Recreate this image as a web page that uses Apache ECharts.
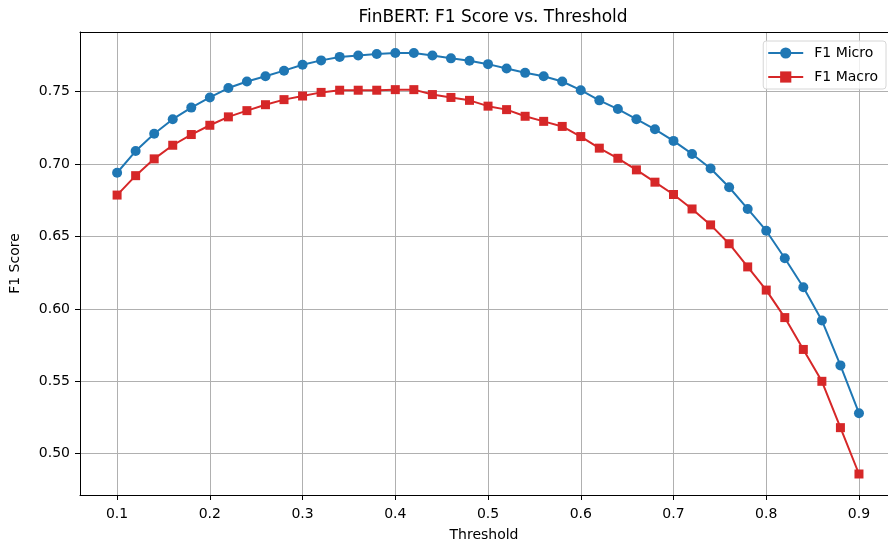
<!DOCTYPE html>
<html>
<head>
<meta charset="utf-8">
<script src="https://cdn.jsdelivr.net/npm/echarts@6/dist/echarts.min.js"></script>
<style>
  html, body { margin: 0; padding: 0; background: #fff; }
  #chart { width: 888px; height: 547px; }
</style>
</head>
<body>
<div id="chart"></div>
<script>
  const thresholds = [0.10, 0.12, 0.14, 0.16, 0.18, 0.20, 0.22, 0.24, 0.26, 0.28,
    0.30, 0.32, 0.34, 0.36, 0.38, 0.40, 0.42, 0.44, 0.46, 0.48,
    0.50, 0.52, 0.54, 0.56, 0.58, 0.60, 0.62, 0.64, 0.66, 0.68,
    0.70, 0.72, 0.74, 0.76, 0.78, 0.80, 0.82, 0.84, 0.86, 0.88, 0.90]
  const f1Micro = [0.694, 0.709, 0.721, 0.731, 0.739, 0.746, 0.7525, 0.757, 0.7606, 0.7645,
    0.7686, 0.7716, 0.774, 0.775, 0.776, 0.7767, 0.7767, 0.775, 0.773, 0.7714,
    0.769, 0.766, 0.763, 0.7606, 0.757, 0.751, 0.744, 0.738, 0.731, 0.724,
    0.716, 0.707, 0.697, 0.684, 0.669, 0.654, 0.635, 0.615, 0.592, 0.561, 0.528]
  const f1Macro = [0.6786, 0.692, 0.7036, 0.713, 0.7204, 0.7268, 0.7326, 0.7369, 0.741, 0.7445,
    0.747, 0.7495, 0.751, 0.751, 0.751, 0.7514, 0.7514, 0.748, 0.746, 0.744,
    0.740, 0.7376, 0.733, 0.7295, 0.726, 0.719, 0.711, 0.704, 0.696, 0.6875,
    0.679, 0.669, 0.658, 0.645, 0.629, 0.613, 0.594, 0.572, 0.550, 0.518, 0.486]
  const xTicks = [0.1, 0.2, 0.3, 0.4, 0.5, 0.6, 0.7, 0.8, 0.9]
  const yTicks = [0.50, 0.55, 0.60, 0.65, 0.70, 0.75]

  const font = 'DejaVu Sans'
  const chart = echarts.init(document.getElementById('chart'))

  const pairs = (ys) => thresholds.map((x, i) => [x, ys[i]])

  chart.setOption({
    animation: false,
    textStyle: { fontFamily: font },
    title: {
      text: 'FinBERT: F1 Score vs. Threshold',
      left: 488,
      textAlign: 'center',
      top: 4,
      textStyle: { fontFamily: font, fontSize: 17, fontWeight: 'normal', color: '#000' }
    },
    grid: {
      left: 80,
      top: 32,
      right: 0,
      bottom: 48
    },
    legend: {
      orient: 'vertical',
      right: 2,
      top: 41,
      backgroundColor: 'rgba(255,255,255,0.8)',
      borderColor: '#d6d6d6',
      borderWidth: 1,
      borderRadius: 3,
      padding: [5, 8, 5, 4],
      itemGap: 10,
      itemWidth: 35,
      itemHeight: 14,
      textStyle: { fontFamily: font, fontSize: 14, color: '#000', padding: [0, 0, 0, 6] },
      data: ['F1 Micro', 'F1 Macro']
    },
    xAxis: [{
      type: 'value',
      min: 0.06,
      max: 0.9313,
      name: 'Threshold',
      nameLocation: 'middle',
      nameGap: 33,
      nameTextStyle: { fontFamily: font, fontSize: 14, color: '#000' },
      axisLine: { onZero: false, lineStyle: { color: '#000', width: 1 } },
      axisTick: { customValues: xTicks, length: 5, lineStyle: { color: '#000' } },
      axisLabel: {
        customValues: xTicks,
        fontSize: 14, color: '#000', margin: 12,
        formatter: (v) => v.toFixed(1)
      },
      splitLine: { show: true, lineStyle: { color: '#b0b0b0', width: 1 } }
    }, {
      // top spine only
      type: 'value',
      position: 'top',
      min: 0.06,
      max: 0.9313,
      axisLine: { show: true, onZero: false, lineStyle: { color: '#000', width: 1 } },
      axisTick: { show: false },
      axisLabel: { show: false },
      splitLine: { show: false }
    }],
    yAxis: {
      type: 'value',
      min: 0.4715,
      max: 0.7912,
      name: 'F1 Score',
      nameLocation: 'middle',
      nameGap: 58,
      nameTextStyle: { fontFamily: font, fontSize: 14, color: '#000' },
      axisLine: { show: true, lineStyle: { color: '#000', width: 1 } },
      axisTick: { show: true, customValues: yTicks, length: 5, lineStyle: { color: '#000' } },
      axisLabel: {
        customValues: yTicks,
        fontSize: 14, color: '#000', margin: 10,
        formatter: (v) => v.toFixed(2)
      },
      splitLine: { show: true, lineStyle: { color: '#b0b0b0', width: 1 } }
    },
    series: [
      {
        name: 'F1 Micro',
        type: 'line',
        data: pairs(f1Micro),
        symbol: 'circle',
        symbolSize: 10,
        color: '#1f77b4',
        lineStyle: { width: 2 },
        itemStyle: { color: '#1f77b4' }
      },
      {
        name: 'F1 Macro',
        type: 'line',
        data: pairs(f1Macro),
        symbol: 'rect',
        symbolSize: 9,
        color: '#d62728',
        lineStyle: { width: 2 },
        itemStyle: { color: '#d62728' }
      }
    ]
  })
</script>
</body>
</html>
